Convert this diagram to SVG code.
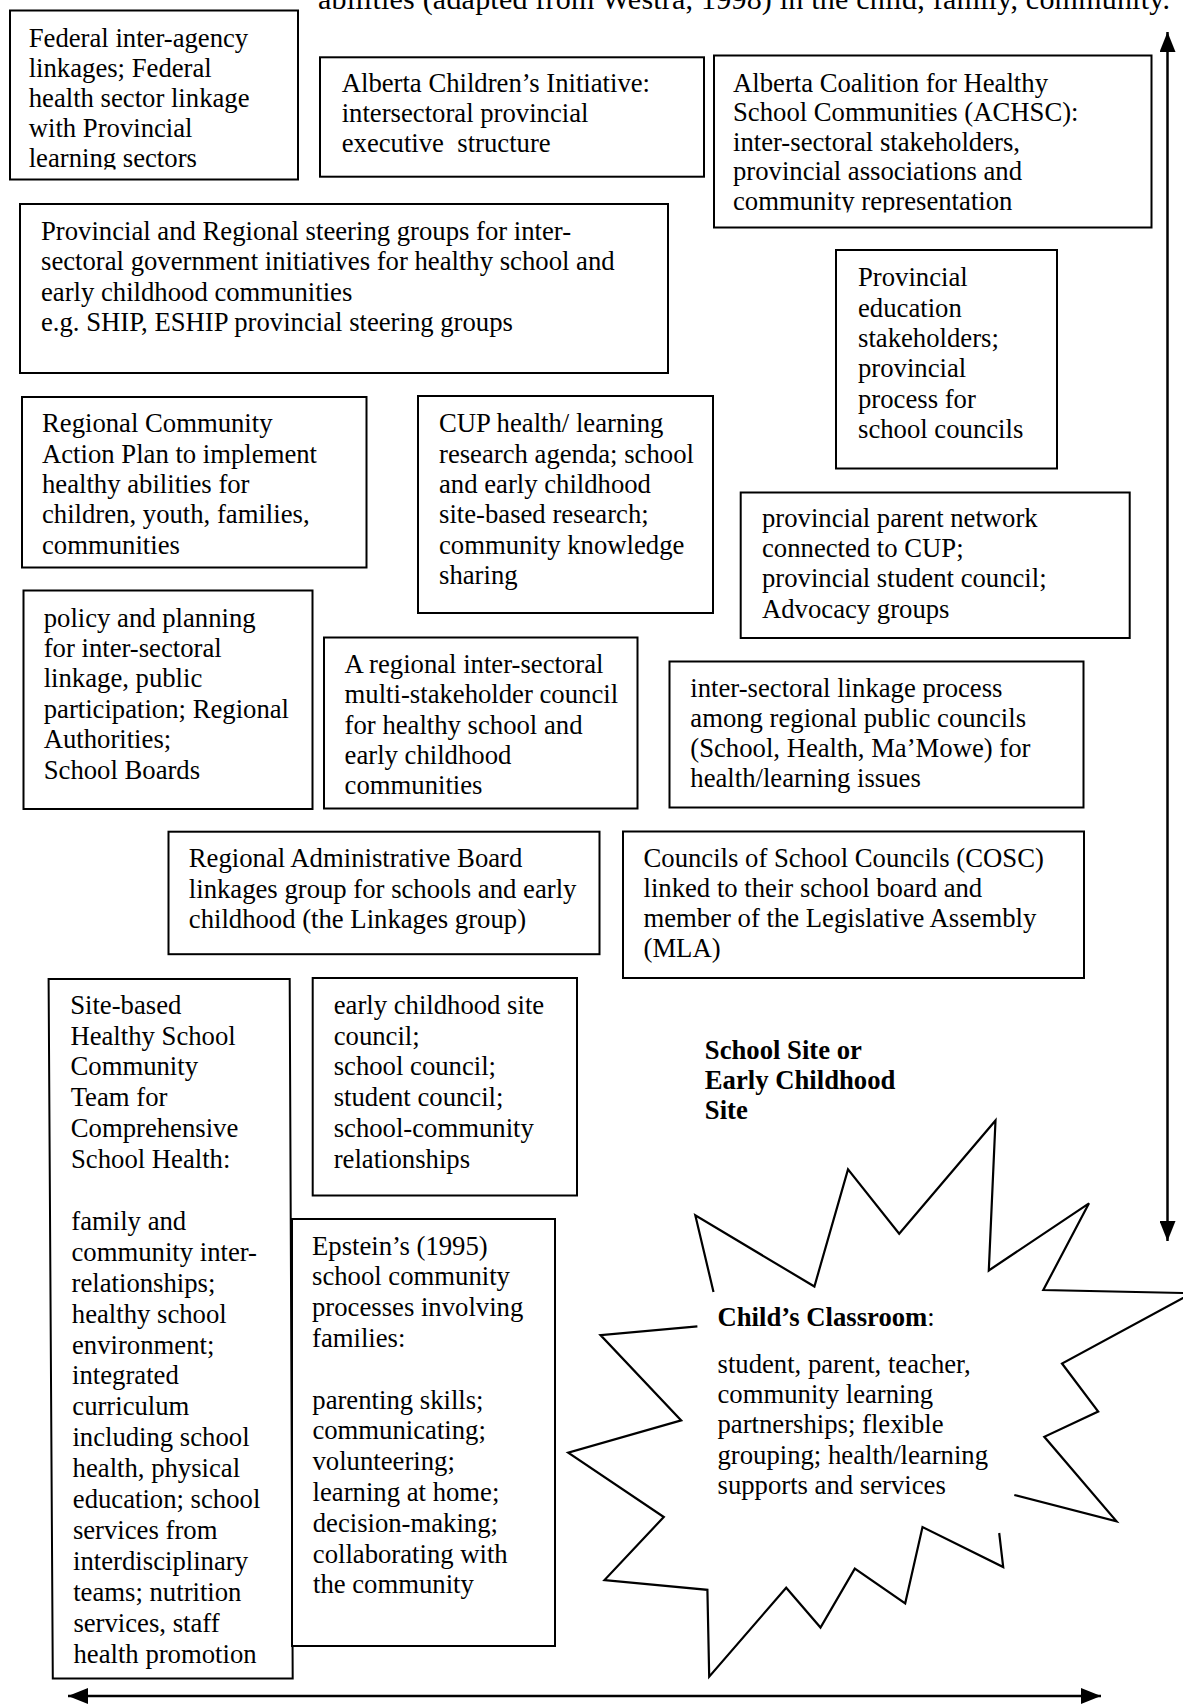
<svg xmlns="http://www.w3.org/2000/svg" width="1183" height="1706" viewBox="0 0 1183 1706">
<defs>
<style>
text { font-family: "Liberation Serif", "Times New Roman", serif; font-size: 26.7px; fill: #000; }
.title { font-size: 30px; }
.box { fill: #fff; stroke: #000; stroke-width: 2; }
.b { font-weight: bold; }
.conn { stroke: #000; stroke-width: 2.5; fill: none; }
.star { fill: none; stroke: #000; stroke-width: 2.2; stroke-linejoin: miter; }
</style>
<marker id="ah" viewBox="0 0 20 16" markerWidth="20" markerHeight="16" refX="20" refY="8" orient="auto-start-reverse" markerUnits="userSpaceOnUse">
<path d="M0,0 L20,8 L0,16 z" fill="#000"/>
</marker>
<clipPath id="c1"><rect x="10" y="10" width="288" height="159.5"/></clipPath>
<clipPath id="c3"><rect x="714" y="55" width="438" height="157.5"/></clipPath>
</defs>
<rect x="0" y="0" width="1183" height="1706" fill="#fff"/>

<g id="title">
<text class="title" x="318" y="8.5" textLength="852" lengthAdjust="spacing">abilities (adapted from Westra, 1998) in the child, family, community.</text>
</g>

<g id="connectors">
<line class="conn" x1="1167.5" y1="32" x2="1167.5" y2="1241" marker-start="url(#ah)" marker-end="url(#ah)"/>
<line class="conn" x1="68" y1="1696" x2="1101" y2="1696" marker-start="url(#ah)" marker-end="url(#ah)"/>
</g>

<g id="n-federal">
<rect class="box" x="10" y="10.5" width="288" height="169"/>
<g clip-path="url(#c1)">
<text x="28.7" y="46.7">Federal inter-agency</text>
<text x="28.7" y="77.3">linkages; Federal</text>
<text x="28.7" y="107.3">health sector linkage</text>
<text x="28.7" y="137.3">with Provincial</text>
<text x="28.7" y="166.7">learning sectors</text>
</g>
</g>

<g id="n-aci">
<rect class="box" x="320" y="57.3" width="384" height="119.4"/>
<text x="341.7" y="91.7">Alberta Children’s Initiative:</text>
<text x="341.7" y="121.7">intersectoral provincial</text>
<text x="341.7" y="151.7">executive&#160; structure</text>
</g>

<g id="n-achsc">
<rect class="box" x="714" y="55.5" width="437.5" height="172"/>
<g clip-path="url(#c3)">
<text x="733" y="91.7">Alberta Coalition for Healthy</text>
<text x="733" y="121">School Communities (ACHSC):</text>
<text x="733" y="150.5">inter-sectoral stakeholders,</text>
<text x="733" y="180">provincial associations and</text>
<text x="733" y="209.5">community representation</text>
</g>
</g>

<g id="n-steering">
<rect class="box" x="20" y="204" width="648" height="169"/>
<text x="41" y="240">Provincial and Regional steering groups for inter-</text>
<text x="41" y="270.3">sectoral government initiatives for healthy school and</text>
<text x="41" y="300.7">early childhood communities</text>
<text x="41" y="330.7">e.g. SHIP, ESHIP provincial steering groups</text>
</g>

<g id="n-education">
<rect class="box" x="836" y="250" width="221" height="218.5"/>
<text x="858" y="286">Provincial</text>
<text x="858" y="316.5">education</text>
<text x="858" y="347">stakeholders;</text>
<text x="858" y="377.3">provincial</text>
<text x="858" y="407.7">process for</text>
<text x="858" y="438">school councils</text>
</g>

<g id="n-action-plan">
<rect class="box" x="22" y="397" width="344.5" height="170.5"/>
<text x="42" y="432">Regional Community</text>
<text x="42" y="462.5">Action Plan to implement</text>
<text x="42" y="493">healthy abilities for</text>
<text x="42" y="523.3">children, youth, families,</text>
<text x="42" y="553.5">communities</text>
</g>

<g id="n-cup">
<rect class="box" x="418" y="396" width="295" height="217"/>
<text x="439" y="432">CUP health/ learning</text>
<text x="439" y="462.5">research agenda; school</text>
<text x="439" y="493">and early childhood</text>
<text x="439" y="523.3">site-based research;</text>
<text x="439" y="553.5">community knowledge</text>
<text x="439" y="584">sharing</text>
</g>

<g id="n-parent-network">
<rect class="box" x="740.7" y="492.5" width="389" height="145.5"/>
<text x="762" y="526.7">provincial parent network</text>
<text x="762" y="557">connected to CUP;</text>
<text x="762" y="587.3">provincial student council;</text>
<text x="762" y="617.6">Advocacy groups</text>
</g>

<g id="n-policy">
<rect class="box" x="23.5" y="590.5" width="289" height="218.5"/>
<text x="43.7" y="626.7">policy and planning</text>
<text x="43.7" y="657">for inter-sectoral</text>
<text x="43.7" y="687.3">linkage, public</text>
<text x="43.7" y="717.7">participation; Regional</text>
<text x="43.7" y="748">Authorities;</text>
<text x="43.7" y="778.5">School Boards</text>
</g>

<g id="n-regional-council">
<rect class="box" x="324" y="637.5" width="313.5" height="171"/>
<text x="344.6" y="672.7">A regional inter-sectoral</text>
<text x="344.6" y="703.2">multi-stakeholder council</text>
<text x="344.6" y="733.6">for healthy school and</text>
<text x="344.6" y="764">early childhood</text>
<text x="344.6" y="794.4">communities</text>
</g>

<g id="n-linkage-process">
<rect class="box" x="669.5" y="661.5" width="414" height="146"/>
<text x="690.3" y="697.3">inter-sectoral linkage process</text>
<text x="690.3" y="727.3">among regional public councils</text>
<text x="690.3" y="757.3">(School, Health, Ma’Mowe) for</text>
<text x="690.3" y="787.3">health/learning issues</text>
</g>

<g id="n-admin-board">
<rect class="box" x="168.5" y="831.7" width="431" height="122.5"/>
<text x="188.8" y="866.7">Regional Administrative Board</text>
<text x="188.8" y="897.5">linkages group for schools and early</text>
<text x="188.8" y="928.3">childhood (the Linkages group)</text>
</g>

<g id="n-cosc">
<rect class="box" x="623" y="831.5" width="461" height="146.5"/>
<text x="643.5" y="866.7">Councils of School Councils (COSC)</text>
<text x="643.5" y="896.7">linked to their school board and</text>
<text x="643.5" y="926.7">member of the Legislative Assembly</text>
<text x="643.5" y="956.7">(MLA)</text>
</g>

<g id="n-site-team">
<polygon class="box" points="48.6,979 289.7,979 292.7,1678.5 52.8,1678.5"/>
<text x="70.2" y="1013.6">Site-based</text>
<text x="70.4" y="1044.5">Healthy School</text>
<text x="70.5" y="1075.4">Community</text>
<text x="70.7" y="1106.3">Team for</text>
<text x="70.8" y="1137.2">Comprehensive</text>
<text x="71" y="1168.1">School Health:</text>
<text x="71.3" y="1229.9">family and</text>
<text x="71.5" y="1260.8">community inter-</text>
<text x="71.6" y="1291.7">relationships;</text>
<text x="71.8" y="1322.6">healthy school</text>
<text x="72" y="1353.5">environment;</text>
<text x="72.1" y="1384.4">integrated</text>
<text x="72.3" y="1415.3">curriculum</text>
<text x="72.4" y="1446.2">including school</text>
<text x="72.6" y="1477.1">health, physical</text>
<text x="72.8" y="1508">education; school</text>
<text x="72.9" y="1538.9">services from</text>
<text x="73.1" y="1569.8">interdisciplinary</text>
<text x="73.2" y="1600.7">teams; nutrition</text>
<text x="73.4" y="1631.6">services, staff</text>
<text x="73.5" y="1662.5">health promotion</text>
</g>

<g id="n-site-councils">
<rect class="box" x="312.7" y="978" width="264.3" height="217.5"/>
<text x="333.7" y="1013.6">early childhood site</text>
<text x="333.7" y="1044.5">council;</text>
<text x="333.7" y="1075.4">school council;</text>
<text x="333.7" y="1106.3">student council;</text>
<text x="333.7" y="1137.2">school-community</text>
<text x="333.7" y="1168.1">relationships</text>
</g>

<g id="n-epstein">
<rect class="box" x="292" y="1219" width="263" height="427"/>
<text x="312" y="1254.6">Epstein’s (1995)</text>
<text x="312" y="1285.4">school community</text>
<text x="312" y="1316.2">processes involving</text>
<text x="312" y="1347">families:</text>
<text x="312.3" y="1408.6">parenting skills;</text>
<text x="312.4" y="1439.4">communicating;</text>
<text x="312.5" y="1470.2">volunteering;</text>
<text x="312.6" y="1501">learning at home;</text>
<text x="312.7" y="1531.8">decision-making;</text>
<text x="312.8" y="1562.6">collaborating with</text>
<text x="313" y="1593.4">the community</text>
</g>

<g id="n-school-site">
<text class="b" x="704.8" y="1059.3">School Site or</text>
<text class="b" x="704.8" y="1089.3">Early Childhood</text>
<text class="b" x="704.8" y="1119.3">Site</text>
</g>

<g id="n-classroom">
<polyline class="star" points="713.5,1291.9 695.3,1215.3 814.4,1286.5 848,1169.4 899.2,1233.7 995.5,1120.5 988.8,1270.5 1089,1203.3 1043.3,1290 1192,1293.2 1062,1363.5 1098.2,1411.5 1044.3,1436.8 1116.5,1521.3 1014.3,1495"/>
<polyline class="star" points="999.2,1533 1003.2,1567 922.5,1527 905.2,1603.3 854.8,1568.6 820.5,1627.5 786.2,1587.7 709.2,1676.7 707.4,1589.8 604.5,1580 663.8,1517 568.2,1452.6 681.2,1420.4 600.5,1335.1 697.4,1326.3"/>
<text x="717.5" y="1326.3"><tspan class="b">Child’s Classroom</tspan>:</text>
<text x="717.5" y="1372.6">student, parent, teacher,</text>
<text x="717.5" y="1403">community learning</text>
<text x="717.5" y="1433.2">partnerships; flexible</text>
<text x="717.5" y="1463.5">grouping; health/learning</text>
<text x="717.5" y="1493.5">supports and services</text>
</g>
</svg>
